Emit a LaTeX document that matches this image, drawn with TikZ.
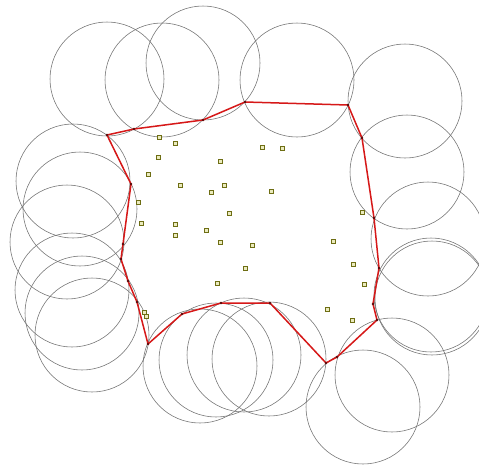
\documentclass[tikz,border=0pt]{standalone}
\definecolor{circgray}{RGB}{112,112,112}
\definecolor{hullred}{RGB}{214,24,24}
\definecolor{vertdark}{RGB}{90,10,10}
\definecolor{siteolive}{RGB}{110,110,20}
\definecolor{sitefill}{RGB}{235,235,190}
\begin{document}
\begin{tikzpicture}[x=1pt,y=-1pt,
  disk/.style={draw=circgray,line width=0.55pt},
  hull/.style={draw=hullred,line width=1.5pt,line join=round},
  vert/.style={fill=vertdark,circle,inner sep=0pt,minimum size=2.6pt},
  site/.style={draw=siteolive,fill=sitefill,line width=0.7pt,rectangle,minimum size=3.8pt,inner sep=0pt}]
\useasboundingbox (0,0) rectangle (479,464);
\fill[white] (0,0) rectangle (479,464);
\begin{scope}
\clip (0,0) rectangle (479,464);
\foreach \cx/\cy in {107/79,162/80,203/63,297/80,
  405/101,407/172,428/239,431/295,432/298,
  392/375,363/407,269/359,244/355,216/360,200/366,
  92/335,82/313,72/290,67/242,80/209,73/181}
  \draw[disk] (\cx,\cy) circle[radius=57pt];
\end{scope}
% hull vertices
\coordinate (v1) at (107,135);
\coordinate (v2) at (134,129);
\coordinate (v3) at (203,120);
\coordinate (v4) at (245,102);
\coordinate (v5) at (348,105);
\coordinate (v6) at (362,138);
\coordinate (v7) at (374,218);
\coordinate (v8) at (379,268);
\coordinate (v9) at (373,304);
\coordinate (v10) at (377,320);
\coordinate (v11) at (337,357);
\coordinate (v12) at (326,363);
\coordinate (v13) at (270,303);
\coordinate (v14) at (221,303);
\coordinate (v15) at (182,314);
\coordinate (v16) at (148,344);
\coordinate (v17) at (137,302);
\coordinate (v18) at (128,281);
\coordinate (v19) at (121,259);
\coordinate (v20) at (123,244);
\coordinate (v21) at (131,184);
\draw[hull] (v1) -- (v2) -- (v3) -- (v4) -- (v5) -- (v6) -- (v7) -- (v8) -- (v9) -- (v10)
  -- (v11) -- (v12) -- (v13) -- (v14) -- (v15) -- (v16) -- (v17) -- (v18) -- (v19) -- (v20)
  -- (v21) -- cycle;
\foreach \i in {1,...,21} \node[vert] (d\i) at (v\i) {};
% sites
\foreach \px/\py [count=\k] in {159/137,175/143,158/157,148/174,180/185,138/202,141/223,
  175/224,175/235,220/161,224/185,211/192,262/147,282/148,271/191,229/213,206/230,
  220/242,252/245,245/268,217/283,362/212,333/241,353/264,364/284,327/309,352/320,
  144/312,146/316}
  \node[site] (s\k) at (\px,\py) {};
\end{tikzpicture}
\end{document}
